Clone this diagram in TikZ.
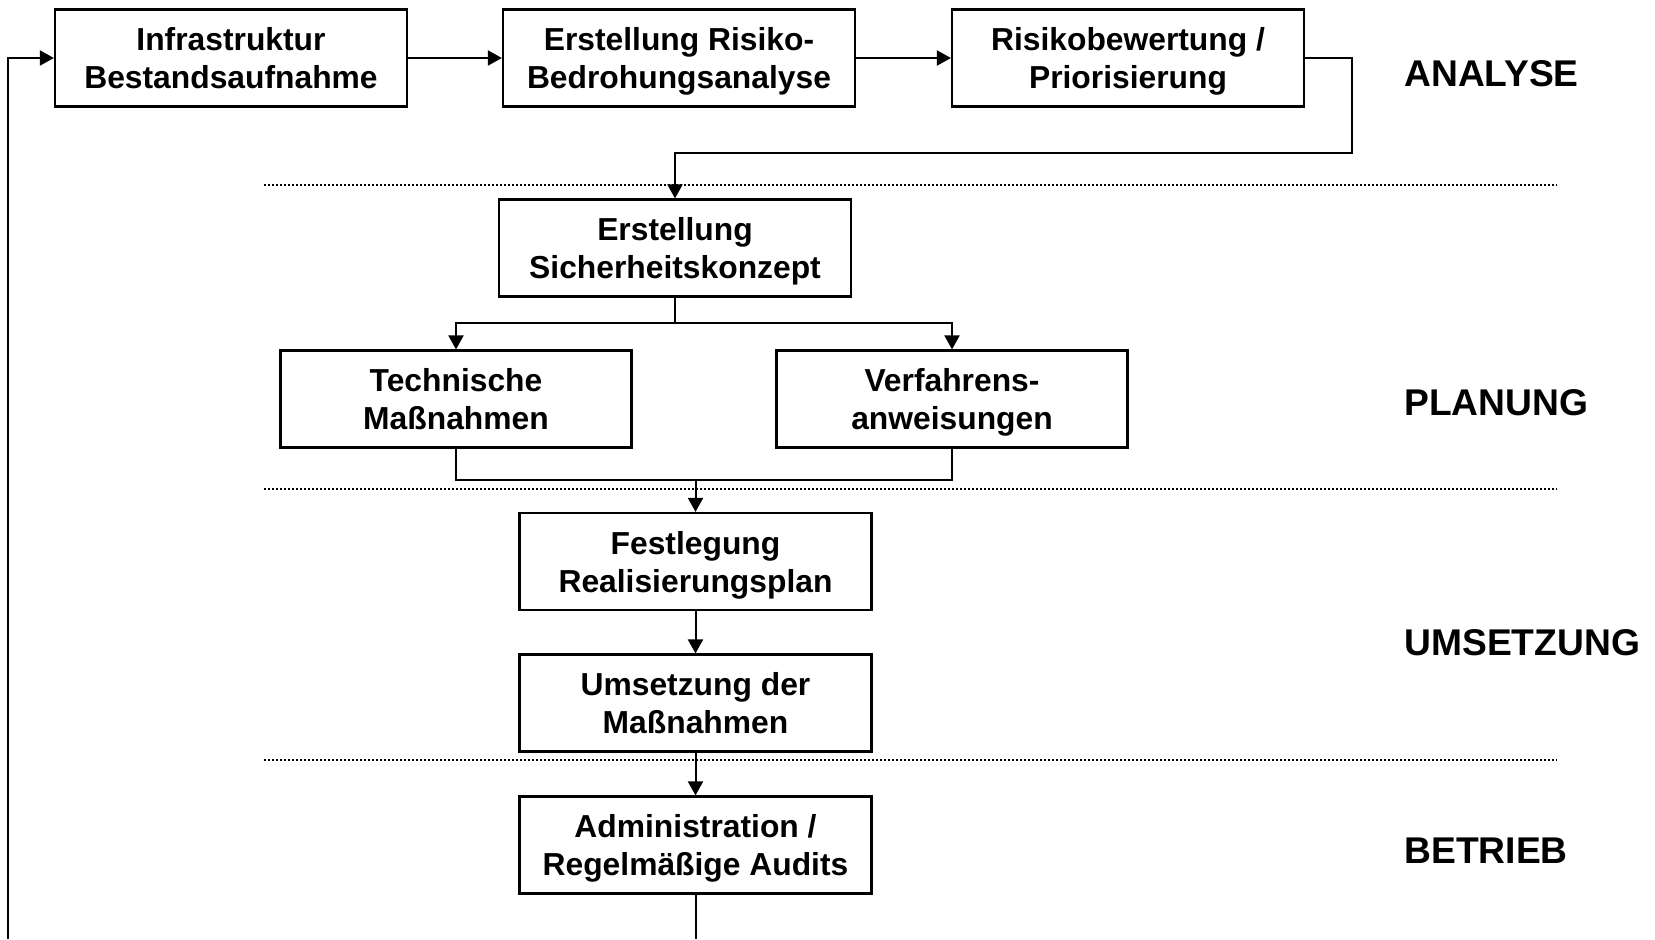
\documentclass[tikz,border=0pt]{standalone}
\usepackage{fontspec}
\setmainfont{Liberation Sans}
\usetikzlibrary{arrows.meta}
\begin{document}
\begin{tikzpicture}[x=0.5pt,y=-0.5pt,
  box/.style={draw,line width=1.1pt,minimum width=176pt,minimum height=48.5pt,inner sep=0pt,align=center,text depth=0pt,font=\fontsize{15.9}{19}\selectfont\bfseries},
  conn/.style={line width=1pt},
  arr/.style={conn,-{Triangle[length=7pt,width=7.5pt]}},
  sep/.style={line width=1pt,dash pattern=on 1pt off 1pt},
  phase/.style={anchor=west,inner sep=0pt,font=\fontsize{18.6}{22}\selectfont\bfseries}]
\useasboundingbox (0,0) rectangle (1655,939);
\node[box] (infra) at (231,58) {Infrastruktur\\Bestandsaufnahme};
\node[box] (risk) at (679,58) {Erstellung Risiko-\\Bedrohungsanalyse};
\node[box] (prio) at (1128,58) {Risikobewertung /\\Priorisierung};
\node[box] (konz) at (675,248) {Erstellung\\Sicherheitskonzept};
\node[box,minimum width=175.5pt] (tech) at (456,399) {Technische\\Maßnahmen};
\node[box,minimum width=175.5pt] (verf) at (952,399) {Verfahrens-\\anweisungen};
\node[box] (fest) at (695.5,561.5) {Festlegung\\Realisierungsplan};
\node[box] (ums) at (695.5,703) {Umsetzung der\\Maßnahmen};
\node[box] (admin) at (695.5,845) {Administration /\\Regelmäßige Audits};
\node[phase] (pa) at (1404,74) {ANALYSE};
\node[phase] (pp) at (1404,403) {PLANUNG};
\node[phase] (pu) at (1404,643) {UMSETZUNG};
\node[phase] (pb) at (1404,851) {BETRIEB};
\draw[sep] (264,184.7) -- (1557,184.7);
\draw[sep] (264,488.7) -- (1557,488.7);
\draw[sep] (264,760) -- (1557,760);
\draw[arr] (infra) -- (risk);
\draw[arr] (risk) -- (prio);
\draw[arr] (prio.east) -- (1352,58) -- (1352,153) -- (675,153) -- (konz.north);
\coordinate (split) at (675,323);
\draw[conn] (konz.south) -- (split);
\draw[arr] (split) -| (tech.north);
\draw[arr] (split) -| (verf.north);
\coordinate (merge) at (695.5,480);
\draw[conn] (tech.south) |- (merge);
\draw[conn] (verf.south) |- (merge);
\draw[arr] (merge) -- (fest.north);
\draw[arr] (fest) -- (ums);
\draw[arr] (ums) -- (admin);
\coordinate (bot) at (695.5,939);
\draw[conn] (admin.south) -- (bot);
\coordinate (loopstart) at (8.4,939);
\draw[arr] (loopstart) -- (8.4,58) -- (infra.west);
\end{tikzpicture}
\end{document}
